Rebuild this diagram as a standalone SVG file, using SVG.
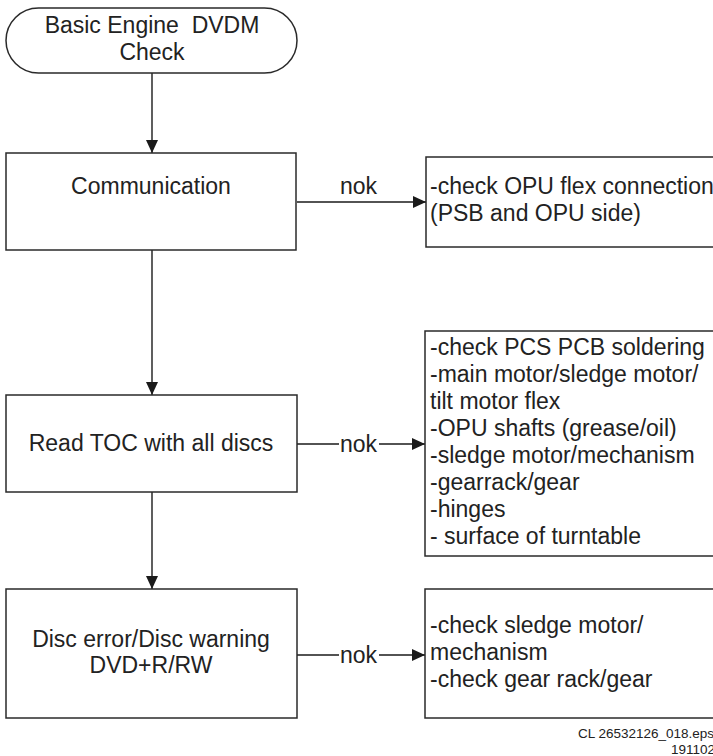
<svg xmlns="http://www.w3.org/2000/svg" width="713" height="756" viewBox="0 0 713 756">
<style>
.box{fill:#fff;stroke:#2a2a2a;stroke-width:1.5}
.ln{fill:none;stroke:#1a1a1a;stroke-width:1.4}
text{font-family:"Liberation Sans",Arial,sans-serif;fill:#222;font-size:23px}
.c{text-anchor:middle}
.ft{font-size:13.5px}
</style>
<defs>
<marker id="ah" markerWidth="13" markerHeight="12" refX="13" refY="6" orient="auto" markerUnits="userSpaceOnUse">
<path d="M0,0 L13,6 L0,12 Z" fill="#1a1a1a"/>
</marker>
</defs>
<rect width="713" height="756" fill="#fff"/>
<g id="connectors">
<line class="ln" x1="152" y1="73" x2="152" y2="153" marker-end="url(#ah)"/>
<line class="ln" x1="152" y1="250" x2="152" y2="395" marker-end="url(#ah)"/>
<line class="ln" x1="152" y1="492" x2="152" y2="589" marker-end="url(#ah)"/>
<line class="ln" x1="297" y1="202" x2="426" y2="202" marker-end="url(#ah)"/>
<line class="ln" x1="297" y1="444" x2="339" y2="444"/>
<line class="ln" x1="379" y1="444" x2="425" y2="444" marker-end="url(#ah)"/>
<line class="ln" x1="297" y1="655" x2="339" y2="655"/>
<line class="ln" x1="379" y1="655" x2="425" y2="655" marker-end="url(#ah)"/>
<text x="358.5" y="194" class="c">nok</text>
<text x="358.5" y="452" class="c">nok</text>
<text x="358.5" y="663" class="c">nok</text>
</g>
<g id="start">
<rect class="box" x="6" y="8" width="291" height="65" rx="32.5" ry="32.5"/>
<text x="152" y="33" class="c" xml:space="preserve">Basic Engine  DVDM</text>
<text x="152" y="60" class="c">Check</text>
</g>
<g id="communication">
<rect class="box" x="6" y="153" width="290" height="97"/>
<text x="151" y="194" class="c">Communication</text>
</g>
<g id="comm-action">
<rect class="box" x="426" y="157" width="300" height="90"/>
<text x="430" y="194">-check OPU flex connection</text>
<text x="430" y="221">(PSB and OPU side)</text>
</g>
<g id="readtoc">
<rect class="box" x="6" y="395" width="291" height="97"/>
<text x="151" y="451" class="c">Read TOC with all discs</text>
</g>
<g id="toc-action">
<rect class="box" x="425" y="331" width="300" height="225"/>
<text x="430" y="355">-check PCS PCB soldering</text>
<text x="430" y="382">-main motor/sledge motor/</text>
<text x="430" y="409">tilt motor flex</text>
<text x="430" y="436">-OPU shafts (grease/oil)</text>
<text x="430" y="463">-sledge motor/mechanism</text>
<text x="430" y="490">-gearrack/gear</text>
<text x="430" y="517">-hinges</text>
<text x="430" y="544">- surface of turntable</text>
</g>
<g id="discerror">
<rect class="box" x="6" y="589" width="291" height="129"/>
<text x="151" y="647" class="c">Disc error/Disc warning</text>
<text x="151" y="673" class="c">DVD+R/RW</text>
</g>
<g id="disc-action">
<rect class="box" x="425" y="589" width="300" height="129"/>
<text x="430" y="633">-check sledge motor/</text>
<text x="430" y="660">mechanism</text>
<text x="430" y="687">-check gear rack/gear</text>
</g>
<text x="578" y="738" class="ft">CL 26532126_018.eps</text>
<text x="671" y="754" class="ft">191102</text>
</svg>
